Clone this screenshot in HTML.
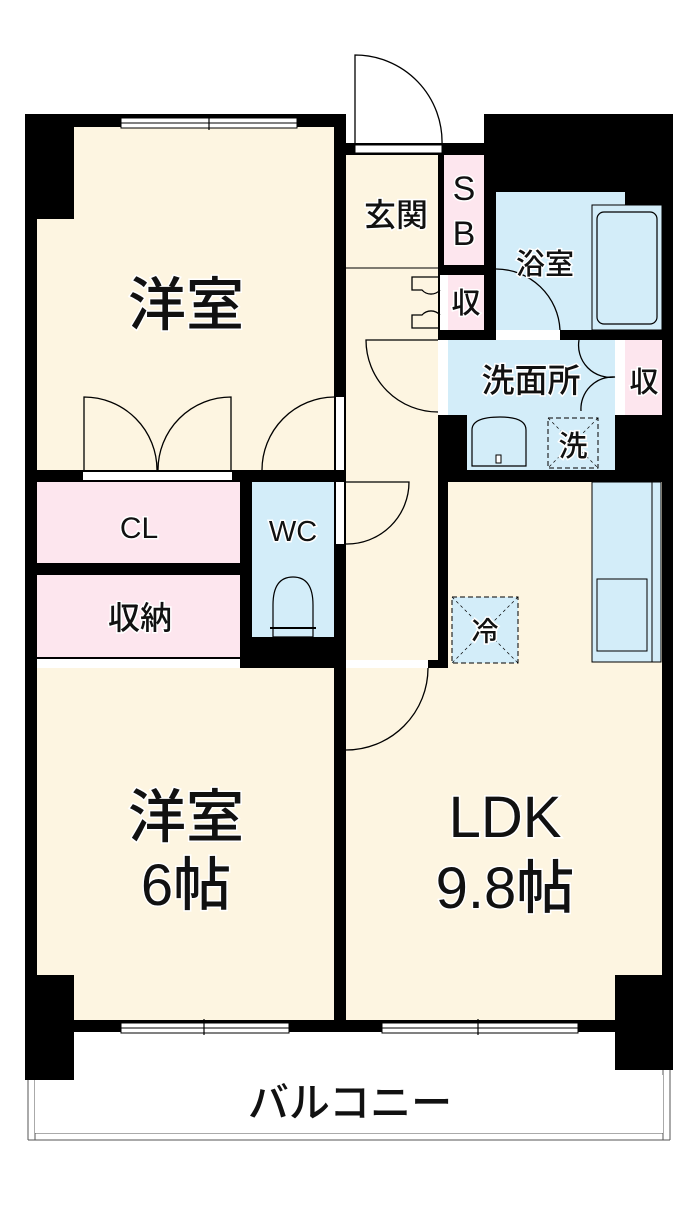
<!DOCTYPE html>
<html><head><meta charset="utf-8"><style>
html,body{margin:0;padding:0;background:#fff;}
svg{display:block}
text{font-family:"Liberation Sans","Noto Sans CJK JP",sans-serif;fill:#111;text-anchor:middle;stroke:#fff;stroke-width:3;paint-order:stroke;font-weight:500}
</style></head><body>
<svg width="700" height="1225" viewBox="0 0 700 1225" xmlns="http://www.w3.org/2000/svg">
<!-- balcony -->
<rect x="27" y="1040" width="645" height="100" fill="#fff"/>
<line x1="28" y1="1075" x2="28" y2="1140" stroke="#555" stroke-width="1"/>
<line x1="35" y1="1075" x2="35" y2="1140" stroke="#555" stroke-width="1"/>
<line x1="663" y1="1070" x2="663" y2="1140" stroke="#555" stroke-width="1"/>
<line x1="670" y1="1070" x2="670" y2="1140" stroke="#555" stroke-width="1"/>
<line x1="28" y1="1140" x2="670" y2="1140" stroke="#555" stroke-width="1"/>
<line x1="35" y1="1133" x2="663" y2="1133" stroke="#555" stroke-width="1"/>
<rect x="35" y="1075" width="628" height="58" fill="#fff"/>

<rect x="25" y="114" width="321" height="918" fill="#000"/>
<rect x="334" y="143" width="339" height="889" fill="#000"/>
<rect x="484" y="114" width="189" height="100" fill="#000"/>

<rect x="37" y="127" width="297" height="343" fill="#fdf5e1"/>
<rect x="25" y="114" width="49" height="105" fill="#000"/>
<rect x="37" y="482" width="203" height="81" fill="#fde6ee"/>
<rect x="37" y="575" width="203" height="82" fill="#fde6ee"/>
<rect x="37" y="659" width="203" height="9" fill="#fff"/>
<rect x="252" y="482" width="82" height="155" fill="#d3edf9"/>
<rect x="37" y="668" width="297" height="352" fill="#fdf5e1"/>
<rect x="346" y="155" width="92" height="505" fill="#fdf5e1"/>
<line x1="346" y1="268" x2="438" y2="268" stroke="#000" stroke-width="1"/>
<rect x="444" y="155" width="40" height="110" fill="#fde6ee"/>
<rect x="440" y="275" width="8" height="55" fill="#fff"/>
<rect x="448" y="275" width="36" height="55" fill="#fde6ee"/>
<rect x="496" y="192" width="129" height="138" fill="#d3edf9"/>
<rect x="592" y="205" width="70" height="125" fill="#d3edf9" stroke="#000" stroke-width="1"/>
<rect x="597" y="212" width="60" height="112" rx="7" fill="#d3edf9" stroke="#000" stroke-width="1.2"/>
<rect x="448" y="340" width="167" height="75" fill="#d3edf9"/>
<rect x="438" y="340" width="10" height="75" fill="#fff"/>
<rect x="615" y="340" width="10" height="75" fill="#fff"/>
<rect x="625" y="340" width="37" height="75" fill="#fde6ee"/>
<rect x="467" y="415" width="148" height="55" fill="#d3edf9"/>
<path d="M472 466 V430 Q472 417 500 417 Q526 417 526 430 V466 Z" fill="#d3edf9" stroke="#000" stroke-width="1.2"/>
<rect x="496" y="455" width="5" height="8" fill="#fff" stroke="#000"/>
<rect x="548" y="418" width="50" height="50" fill="none" stroke="#000" stroke-dasharray="5,3"/>
<line x1="548" y1="418" x2="598" y2="468" stroke="#000" stroke-dasharray="3,3" stroke-width=".7"/>
<line x1="598" y1="418" x2="548" y2="468" stroke="#000" stroke-dasharray="3,3" stroke-width=".7"/>
<rect x="496" y="330" width="64" height="10" fill="#fff"/>
<rect x="355" y="145" width="87" height="8" fill="#fff" stroke="#000" stroke-width="1"/>
<rect x="448" y="482" width="214" height="538" fill="#fdf5e1"/>
<rect x="346" y="668" width="102" height="352" fill="#fdf5e1"/>
<rect x="346" y="660" width="82" height="8" fill="#fff"/>
<rect x="592" y="482" width="60" height="180" fill="#d3edf9" stroke="#000" stroke-width="1"/>
<rect x="652" y="482" width="9" height="180" fill="#d3edf9" stroke="#000" stroke-width="1"/>
<rect x="597" y="579" width="50" height="72" fill="#d3edf9" stroke="#000" stroke-width="1"/>
<rect x="452" y="597" width="66" height="66" fill="#d3edf9" stroke="#000" stroke-dasharray="5,3"/>
<line x1="452" y1="597" x2="518" y2="663" stroke="#000" stroke-dasharray="3,3" stroke-width=".7"/>
<line x1="518" y1="597" x2="452" y2="663" stroke="#000" stroke-dasharray="3,3" stroke-width=".7"/>
<path d="M273 637 V605 Q273 577 293 577 Q313 577 313 605 V637 Z" fill="#d3edf9" stroke="#000" stroke-width="1.2"/>
<rect x="270" y="627" width="46" height="2" fill="#000"/>
<rect x="252" y="637" width="20" height="10" fill="#000"/>

<rect x="25" y="975" width="49" height="105" fill="#000"/>
<rect x="615" y="975" width="58" height="95" fill="#000"/>

<g fill="#fff" stroke="#000" stroke-width="1">
<rect x="121" y="118" width="176" height="5"/><rect x="121" y="123" width="176" height="5"/>
<rect x="121" y="1023" width="168" height="5"/><rect x="121" y="1028" width="168" height="5"/>
<rect x="382" y="1023" width="196" height="5"/><rect x="382" y="1028" width="196" height="5"/>
</g>
<g stroke="#000" stroke-width="1.2"><line x1="209" y1="115" x2="209" y2="130"/><line x1="204" y1="1019" x2="204" y2="1035"/><line x1="478" y1="1019" x2="478" y2="1035"/></g>
<rect x="83" y="472" width="149" height="8" fill="#fff"/>
<rect x="336" y="397" width="8" height="73" fill="#fff"/>
<rect x="336" y="482" width="8" height="62" fill="#fff"/>

<g fill="none" stroke="#000" stroke-width="1.3">
<path d="M355 145 V55 A87 87 0 0 1 442 145"/>
<path d="M84 470 V397 A73 73 0 0 1 157 470"/>
<path d="M231 470 V397 A73 73 0 0 0 158 470"/>
<path d="M334 397 A73 73 0 0 0 262 470"/>
<path d="M344 482 H409 A62 62 0 0 1 346 544"/>
<path d="M438 340 H366 A72 72 0 0 0 438 412"/>
<path d="M440 277 H412 V290 H422 A12 12 0 0 0 440 290"/>
<path d="M440 328 H412 V315 H422 A12 12 0 0 1 440 315"/>
<path d="M496 269 A64 64 0 0 1 560 330"/>
<path d="M579 340 A32 32 0 0 0 615 377 A32 32 0 0 0 581 411"/>
<path d="M428 668 A82 82 0 0 1 346 750"/>
</g>

<text x="186" y="325" font-size="58">洋室</text>
<text x="396" y="226" font-size="32">玄関</text>
<text x="464" y="200" font-size="34">S</text>
<text x="464" y="245" font-size="34">B</text>
<text x="545" y="274" font-size="29">浴室</text>
<text x="466" y="313" font-size="29">収</text>
<text x="531" y="392" font-size="33">洗面所</text>
<text x="644" y="392" font-size="29">収</text>
<text x="573" y="456" font-size="29">洗</text>
<text x="485" y="641" font-size="27">冷</text>
<text x="139" y="538" font-size="30">CL</text>
<text x="140" y="629" font-size="32">収納</text>
<text x="293" y="541" font-size="29">WC</text>
<text x="186" y="837" font-size="58">洋室</text>
<text x="186" y="905" font-size="58">6帖</text>
<text x="505" y="837" font-size="58">LDK</text>
<text x="505" y="908" font-size="58">9.8帖</text>
<text x="350" y="1117" font-size="41">バルコニー</text>
</svg>
</body></html>
